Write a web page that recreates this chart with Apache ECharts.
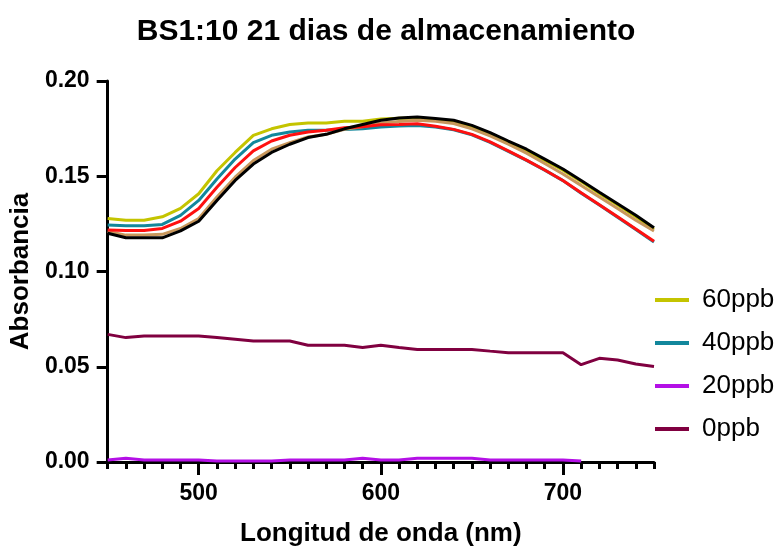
<!DOCTYPE html>
<html>
<head>
<meta charset="utf-8">
<script src="https://cdn.jsdelivr.net/npm/echarts@6/dist/echarts.min.js"></script>
<style>
  html, body { margin: 0; padding: 0; background: #fff; }
  #chart { width: 774px; height: 552px; }
</style>
</head>
<body>
<div id="chart"></div>
<script>
// longitudes de onda (nm)
const wavelengths = [450, 460, 470, 480, 490, 500, 510, 520, 530, 540, 550, 560, 570, 580, 590,
  600, 610, 620, 630, 640, 650, 660, 670, 680, 690, 700, 710, 720, 730, 740, 750];

const ppb60 = [0.1278, 0.1269, 0.1269, 0.1287, 0.1331, 0.1408, 0.1529, 0.1625, 0.1715, 0.1749, 0.1772,
  0.1780, 0.1780, 0.1789, 0.1789, 0.1801, 0.1804, 0.1806, 0.1799, 0.1786, 0.1759, 0.1724, 0.1678,
  0.1633, 0.1583, 0.1532, 0.1472, 0.1409, 0.1349, 0.1287, 0.1222];
const ppb40 = [0.1244, 0.1240, 0.1240, 0.1247, 0.1295, 0.1373, 0.1486, 0.1590, 0.1676, 0.1715, 0.1732,
  0.1741, 0.1742, 0.1746, 0.1749, 0.1759, 0.1764, 0.1766, 0.1759, 0.1744, 0.1717, 0.1678, 0.1631,
  0.1583, 0.1532, 0.1477, 0.1411, 0.1349, 0.1285, 0.1221, 0.1155];
const ppb20 = [0.001, 0.002, 0.001, 0.001, 0.001, 0.001, 0.0005, 0.0005, 0.0005, 0.0005, 0.001,
  0.001, 0.001, 0.001, 0.002, 0.001, 0.001, 0.002, 0.002, 0.002, 0.002, 0.001, 0.001,
  0.001, 0.001, 0.001, 0.0005, null, null, null, null];
const ppb0 = [0.0670, 0.0653, 0.0661, 0.0661, 0.0661, 0.0661, 0.0653, 0.0644, 0.0635, 0.0635, 0.0635,
  0.0613, 0.0613, 0.0613, 0.0601, 0.0613, 0.0601, 0.0591, 0.0591, 0.0591, 0.0591, 0.0582, 0.0574,
  0.0574, 0.0574, 0.0574, 0.0511, 0.0544, 0.0535, 0.0514, 0.0501];
// curvas sin leyenda
const redCurve = [0.1218, 0.1215, 0.1215, 0.1226, 0.1264, 0.1331, 0.1442, 0.1546, 0.1633, 0.1685, 0.1715,
  0.1732, 0.1742, 0.1754, 0.1760, 0.1770, 0.1772, 0.1775, 0.1763, 0.1746, 0.1720, 0.1680, 0.1633,
  0.1585, 0.1533, 0.1478, 0.1413, 0.1351, 0.1287, 0.1223, 0.1159];
const tanCurve = [0.1210, 0.1191, 0.1191, 0.1195, 0.1226, 0.1278, 0.1391, 0.1495, 0.1582, 0.1642, 0.1676,
  0.1706, 0.1720, 0.1746, 0.1760, 0.1780, 0.1787, 0.1794, 0.1789, 0.1777, 0.1749, 0.1712, 0.1668,
  0.1621, 0.1567, 0.1512, 0.1452, 0.1391, 0.1331, 0.1269, 0.1213];
const blackCurve = [0.1201, 0.1177, 0.1177, 0.1177, 0.1213, 0.1264, 0.1373, 0.1478, 0.1564, 0.1625, 0.1668,
  0.1703, 0.1720, 0.1749, 0.1772, 0.1794, 0.1806, 0.1811, 0.1803, 0.1794, 0.1767, 0.1729, 0.1685,
  0.1642, 0.1590, 0.1538, 0.1478, 0.1416, 0.1356, 0.1295, 0.1230];

const legendNames = ['60ppb', '40ppb', '20ppb', '0ppb'];
const xMajorTicks = [500, 600, 700];

function pairs(arr) {
    return wavelengths.map((w, i) => [w, arr[i]]);
}

function line(name, data, color) {
    return {
        name: name,
        type: 'line',
        data: pairs(data),
        showSymbol: false,
        symbol: 'none',
        lineStyle: { color: color, width: 3 },
        itemStyle: { color: color },
        connectNulls: false,
        animation: false
    };
}

const chart = echarts.init(document.getElementById('chart'));
const font = 'Arial, "Liberation Sans", sans-serif';

chart.setOption({
    backgroundColor: '#fff',
    title: {
        text: 'BS1:10 21 dias de almacenamiento',
        left: 381, top: 12, textAlign: 'center',
        textStyle: { fontFamily: font, fontWeight: 'bold', fontSize: 30, color: '#000' }
    },
    grid: { left: 105, right: 120, top: 81, bottom: 86 },
    legend: {
        data: legendNames,
        orient: 'vertical',
        left: 650, top: 282,
        itemGap: 17,
        itemWidth: 34, itemHeight: 4,
        icon: 'rect',
        textStyle: { fontFamily: font, fontSize: 26, color: '#000', padding: [0, 0, 0, 8] }
    },
    xAxis: [{
        type: 'value',
        min: 450, max: 750,
        name: 'Longitud de onda (nm)',
        nameLocation: 'middle', nameGap: 59,
        nameTextStyle: { fontFamily: font, fontWeight: 'bold', fontSize: 26, color: '#000' },
        axisLine: { lineStyle: { color: '#000', width: 3 } },
        axisTick: { customValues: xMajorTicks, length: 13, lineStyle: { color: '#000', width: 3 } },
        axisLabel: { customValues: xMajorTicks, margin: 20,
            fontFamily: font, fontWeight: 'bold', fontSize: 23, color: '#000' },
        splitLine: { show: false }
    }, {
        type: 'value',
        min: 450, max: 750, interval: 10,
        position: 'bottom',
        axisLine: { show: false },
        axisTick: { length: 7, lineStyle: { color: '#000', width: 3 } },
        axisLabel: { show: false },
        splitLine: { show: false }
    }],
    yAxis: {
        type: 'value',
        min: 0, max: 0.2, interval: 0.05,
        name: 'Absorbancia',
        nameLocation: 'middle', nameGap: 70,
        nameTextStyle: { fontFamily: font, fontWeight: 'bold', fontSize: 26, color: '#000' },
        axisLine: { show: true, lineStyle: { color: '#000', width: 3 } },
        axisTick: { show: true, length: 11, lineStyle: { color: '#000', width: 3 } },
        axisLabel: { margin: 18, formatter: v => v.toFixed(2),
            fontFamily: font, fontWeight: 'bold', fontSize: 23, color: '#000' },
        splitLine: { show: false }
    },
    series: [
        line('0ppb', ppb0, '#800040'),
        line('20ppb', ppb20, '#b410e6'),
        line('40ppb', ppb40, '#12879c'),
        line('60ppb', ppb60, '#c4c400'),
        line('curva_tan', tanCurve, '#c8975c'),
        line('curva_roja', redCurve, '#ff1010'),
        line('curva_negra', blackCurve, '#000000')
    ]
});
window.addEventListener('resize', () => chart.resize());
</script>
</body>
</html>
